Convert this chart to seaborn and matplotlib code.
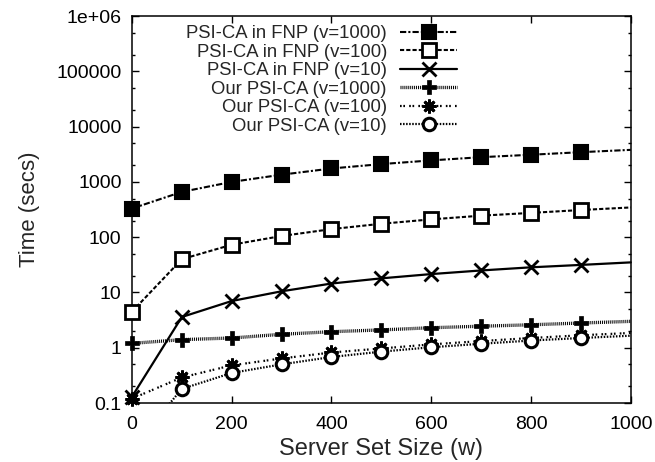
import pandas as pd
import numpy as np
import matplotlib
matplotlib.use('Agg')
import matplotlib.pyplot as plt
import seaborn as sns
from matplotlib.ticker import FixedLocator, FuncFormatter

# Datos
w = [0, 100, 200, 300, 400, 500, 600, 700, 800, 900, 1000]
fnp_1000 = [330, 660, 1000, 1350, 1750, 2100, 2450, 2800, 3100, 3450, 3800]
fnp_100 = [4.5, 40, 73, 105, 140, 175, 210, 245, 275, 310, 345]
fnp_10 = [0.13, 3.6, 7.0, 10.5, 14.5, 18, 21.5, 25, 28.5, 31.5, 35]
our_1000 = [1.2, 1.4, 1.5, 1.75, 1.95, 2.1, 2.3, 2.45, 2.6, 2.8, 3.0]
our_100 = [0.12, 0.29, 0.48, 0.64, 0.82, 0.97, 1.15, 1.32, 1.5, 1.68, 1.85]
our_10 = [0.015, 0.18, 0.35, 0.5, 0.68, 0.85, 1.02, 1.18, 1.35, 1.5, 1.65]

etiquetas = ['PSI-CA in FNP (v=1000)', 'PSI-CA in FNP (v=100)', 'PSI-CA in FNP (v=10)',
             'Our PSI-CA (v=1000)', 'Our PSI-CA (v=100)', 'Our PSI-CA (v=10)']
series = [fnp_1000, fnp_100, fnp_10, our_1000, our_100, our_10]

sns.set_style("ticks")
plt.rcParams['font.family'] = ['Liberation Sans', 'DejaVu Sans']
plt.rcParams['lines.scale_dashes'] = False

# estilos tipo gnuplot
estilos = [
    dict(linestyle=(0, (4.5, 1.5, 1.5, 1.5)), lw=1.5, marker='s', ms=9.5, mfc='black', mew=1.5),
    dict(linestyle=(0, (3, 1.5)), lw=1.5, marker='s', ms=9.5, mfc='white', mew=2),
    dict(linestyle='-', lw=1.6, marker='x', ms=10, mew=2),
    dict(linestyle=(0, (0.7, 0.7)), lw=2.4, marker='P', ms=10, mfc='black', mew=0.5),
    dict(linestyle=(0, (1.2, 1.2, 1.2, 3)), lw=1.6, marker=(8, 2, 0), ms=10, mew=2),
    dict(linestyle=(0, (1.1, 1.1)), lw=1.6, marker='o', ms=9, mfc='white', mew=2.2),
]

fig = plt.figure(figsize=(6.55, 4.62), dpi=100)
ax = fig.add_axes([0.2015, 0.1277, 0.7615, 0.8375])

for i, (vals, lab, est) in enumerate(zip(series, etiquetas, estilos)):
    df = pd.DataFrame({'w': w, 't': vals})
    sns.lineplot(data=df, x='w', y='t', ax=ax, color='black', mec='black',
                 markevery=slice(0, 10), label=lab, clip_on=(i == 5), zorder=3, **est)

ax.set_yscale('log')
ax.set_xlim(0, 1000)
ax.set_ylim(0.1, 1e6)
ax.set_xticks([0, 200, 400, 600, 800, 1000])
ax.yaxis.set_major_locator(FixedLocator([0.1, 1, 10, 100, 1000, 1e4, 1e5, 1e6]))
ax.yaxis.set_major_formatter(FuncFormatter(lambda y, _: '1e+06' if y >= 1e6 else ('0.1' if y < 1 else f'{y:.0f}')))
menores = [m * 10.0 ** e for e in range(-1, 6) for m in (2, 5)]
ax.yaxis.set_minor_locator(FixedLocator(menores))
ax.yaxis.set_minor_formatter(FuncFormatter(lambda y, _: ''))

ax.tick_params(which='both', direction='in', top=True, right=True, labelsize=14, colors='black')
ax.tick_params(which='major', length=5, width=1)
ax.tick_params(which='minor', length=2.5, width=1)
ax.tick_params(axis='x', which='major', pad=9)
ax.tick_params(axis='y', which='major', pad=7.5)
for s in ax.spines.values():
    s.set_linewidth(1.1)
    s.set_color('black')

ax.set_xlabel('Server Set Size (w)', fontsize=17, labelpad=4)
ax.set_ylabel('Time (secs)', fontsize=16, labelpad=12)

ax.legend(loc='upper right', bbox_to_anchor=(0.652, 0.976), frameon=False, markerfirst=False,
          fontsize=13.3, handlelength=3.1, handletextpad=0.7, labelspacing=0.08, borderpad=0,
          borderaxespad=0)

fig.savefig('out.png', dpi=100)
